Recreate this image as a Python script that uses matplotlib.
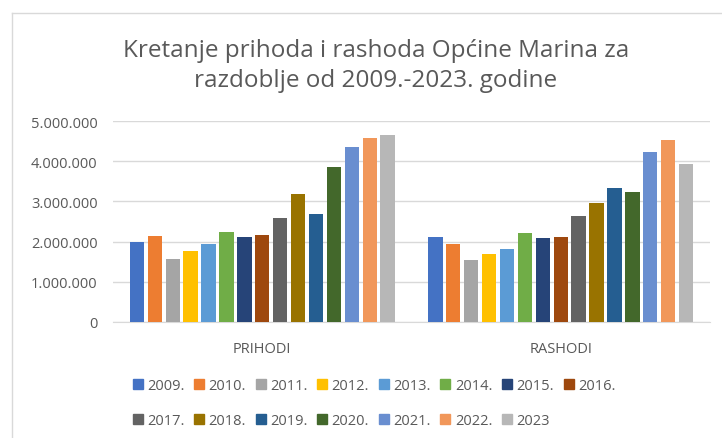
import matplotlib
matplotlib.use("Agg")
import matplotlib.pyplot as plt
import numpy as np
from matplotlib.ticker import FuncFormatter
from matplotlib.lines import Line2D

plt.rcParams['font.family'] = ['Open Sans', 'DejaVu Sans']

categories = ["PRIHODI", "RASHODI"]
years = ["2009.", "2010.", "2011.", "2012.", "2013.", "2014.", "2015.", "2016.",
         "2017.", "2018.", "2019.", "2020.", "2021.", "2022.", "2023"]
prihodi = [2000000, 2140000, 1570000, 1770000, 1940000, 2230000, 2125000, 2175000,
           2580000, 3175000, 2675000, 3850000, 4350000, 4575000, 4640000]
rashodi = [2125000, 1930000, 1530000, 1680000, 1820000, 2220000, 2090000, 2125000,
           2640000, 2970000, 3330000, 3230000, 4230000, 4525000, 3930000]
yticks = [0, 1000000, 2000000, 3000000, 4000000, 5000000]
colors = ["#4472C4", "#ED7D31", "#A5A5A5", "#FFC000", "#5B9BD5", "#70AD47",
          "#264478", "#9E480E", "#636363", "#997300", "#255E91", "#43682B",
          "#698ED0", "#F1975A", "#B7B7B7"]

W, H = 722, 439
fig = plt.figure(figsize=(W / 100, H / 100), dpi=100)
ax = fig.add_axes([113 / W, 1 - 323 / H, (710 - 113) / W, (323 - 122) / H])

n = len(years)
x = np.arange(len(categories))
slot = 0.9 / n
handles = []
for i, yr in enumerate(years):
    vals = [prihodi[i], rashodi[i]]
    pos = x - 0.45 + slot * (i + 0.5)
    ax.bar(pos, vals, width=slot * 0.8, color=colors[i], zorder=3)
    handles.append(Line2D([], [], marker='s', linestyle='none', markersize=7,
                          markerfacecolor=colors[i], markeredgecolor=colors[i], label=yr))

ax.set_xlim(-0.5, 1.5)
ax.set_ylim(0, 5000000)
ax.set_yticks(yticks)
ax.yaxis.set_major_formatter(FuncFormatter(lambda v, p: "0" if v == 0 else f"{int(v):,}".replace(",", ".")))
ax.set_xticks(x)
ax.set_xticklabels(categories)
ax.tick_params(axis='both', length=0, colors="#595959", labelsize=10.5)
ax.tick_params(axis='y', pad=11)
ax.tick_params(axis='x', pad=14)
ax.grid(axis='y', color="#D9D9D9", linewidth=1, zorder=0)
for s in ["left", "right", "top"]:
    ax.spines[s].set_visible(False)
ax.spines["bottom"].set_color("#D9D9D9")
ax.set_axisbelow(True)

# Reorder legend handles so the rows read left to right
row1 = handles[:8]
row2 = handles[8:]
ordered = []
for i in range(8):
    ordered.append(row1[i])
    if i < len(row2):
        ordered.append(row2[i])
leg = fig.legend(handles=ordered, ncol=8, loc='center', bbox_to_anchor=(374 / W, 1 - 404 / H),
                 frameon=False, fontsize=10.5, handlelength=0.7, handletextpad=0.3,
                 columnspacing=0.65, labelspacing=1.4, labelcolor="#595959")

fig.text(376 / W, 1 - 51 / H, "Kretanje prihoda i rashoda Općine Marina za",
         ha='center', va='center', fontsize=17.5, color="#595959")
fig.text(376 / W, 1 - 81 / H, "razdoblje od 2009.-2023. godine",
         ha='center', va='center', fontsize=17.5, color="#595959")

# Chart area border (top and left)
fig.add_artist(Line2D([12 / W, 1], [1 - 14 / H, 1 - 14 / H], color="#D9D9D9", lw=1))
fig.add_artist(Line2D([12 / W, 12 / W], [0, 1 - 14 / H], color="#D9D9D9", lw=1))

fig.savefig("out.png", dpi=100)
